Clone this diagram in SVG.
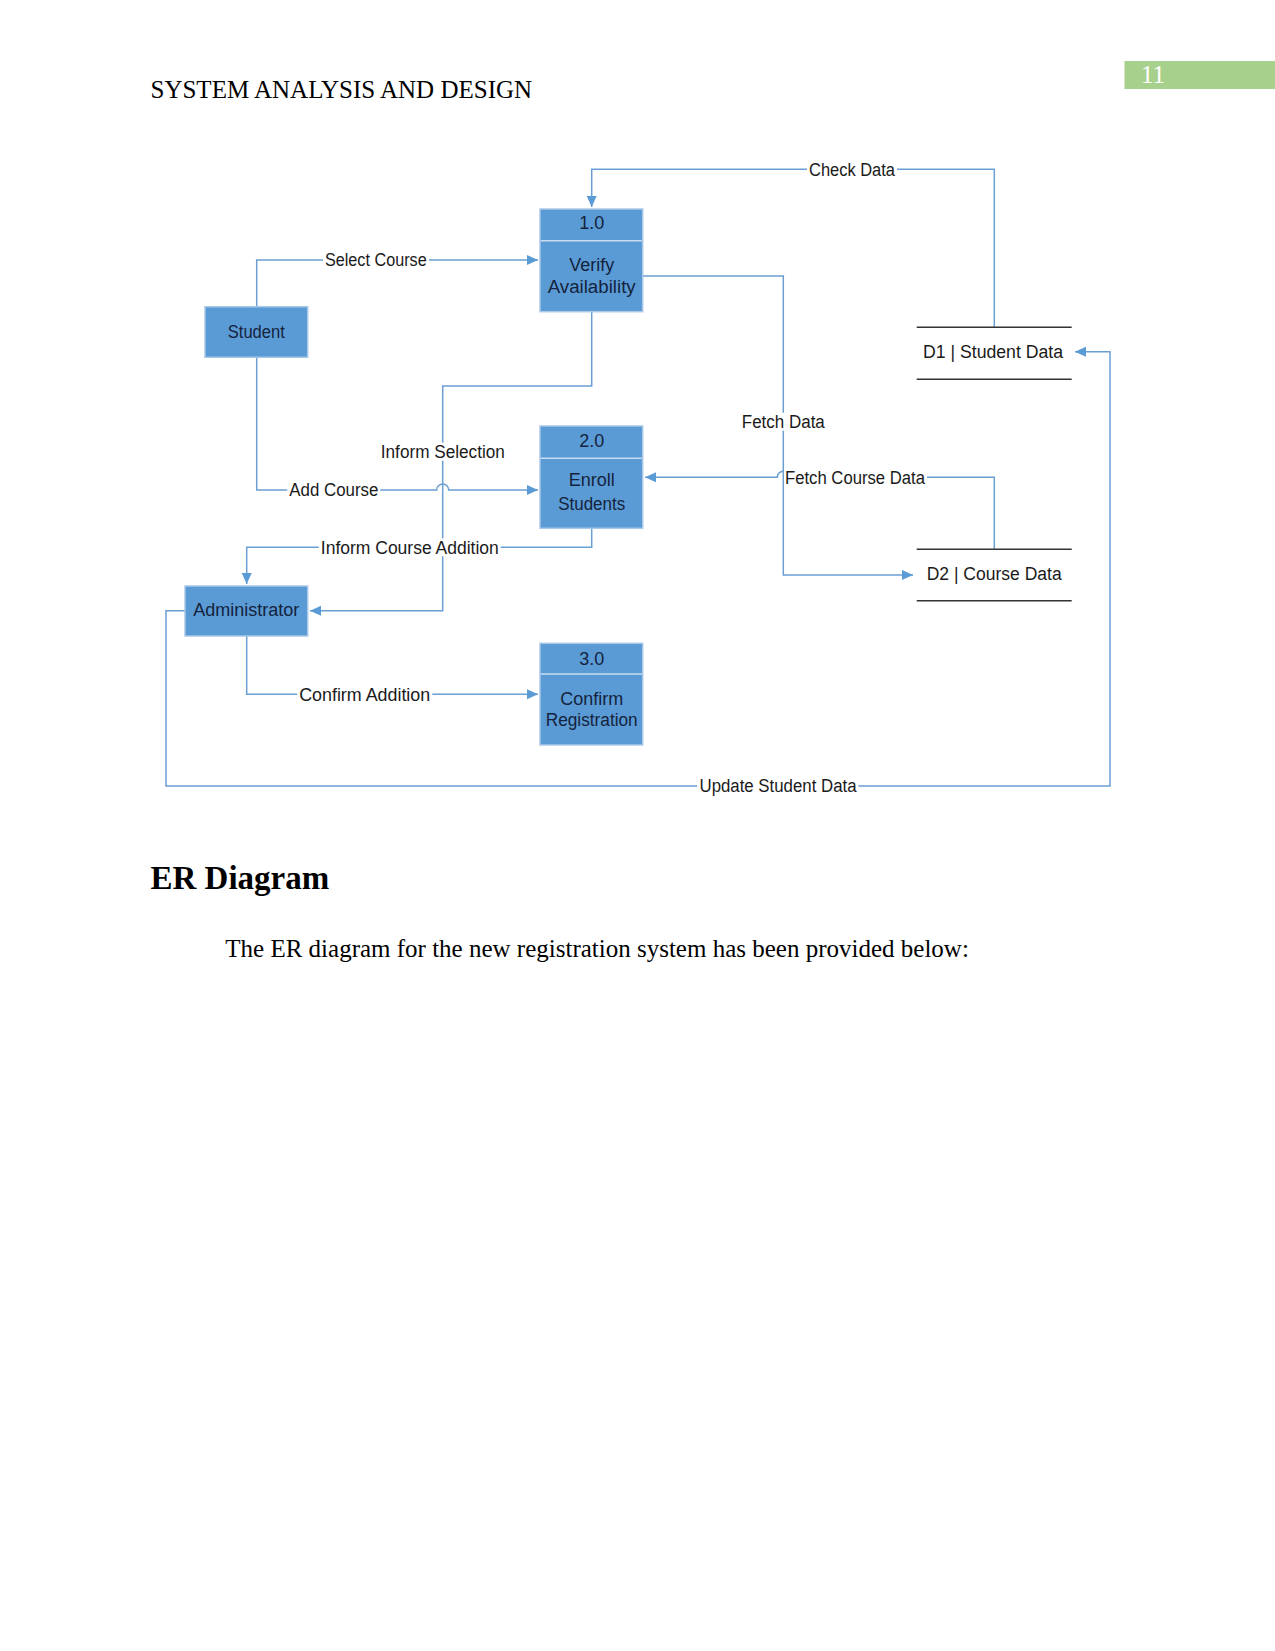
<svg xmlns="http://www.w3.org/2000/svg" width="1275" height="1651" viewBox="0 0 1275 1651">
<style>
.page{font-family:"Liberation Serif","Times New Roman",serif;fill:#000}
.box{fill:#5b9bd5;stroke:#a9c8e8;stroke-width:1.5}
.div{stroke:#c9dcf0;stroke-width:1.5}
.bt{font-family:"Liberation Sans",Arial,sans-serif;font-size:18px;fill:#14233d;text-anchor:middle}
.lb{font-family:"Liberation Sans",Arial,sans-serif;font-size:18px;fill:#1a1a1a;text-anchor:middle}
.bg{fill:#fff}
.c{fill:none;stroke:#6b9fd3;stroke-width:1.5}
.ds{stroke:#333;stroke-width:1.5}
</style>
<defs>
<marker id="ah" markerUnits="userSpaceOnUse" markerWidth="12" markerHeight="11" refX="11" refY="5" orient="auto">
<path d="M0,0 L11,5 L0,10 z" fill="#5b9bd5"/>
</marker>
</defs>
<rect width="1275" height="1651" fill="#fff"/>
<g id="header">
<text class="page" x="150.5" y="98" font-size="25">SYSTEM ANALYSIS AND DESIGN</text>
<rect x="1124.5" y="61" width="150.5" height="28" fill="#a8d08d"/>
<text x="1141" y="83" font-family="Liberation Serif, serif" font-size="25" fill="#fff">11</text>
</g>
<g id="connectors">
<path class="c" d="M256.7,306.7 V260 H538" marker-end="url(#ah)"/>
<path class="c" d="M994.3,327.3 V169.3 H591.7 V207" marker-end="url(#ah)"/>
<path class="c" d="M642.7,276 H783.3 V575 H913" marker-end="url(#ah)"/>
<path class="c" d="M591.7,311.7 V386 H442.7 V610.7 H310" marker-end="url(#ah)"/>
<path class="c" d="M256.7,357.3 V490 H436.7 A6,6 0 0 1 448.7,490 H538" marker-end="url(#ah)"/>
<path class="c" d="M591.7,528.3 V547.3 H246.7 V584" marker-end="url(#ah)"/>
<path class="c" d="M994.3,549.3 V477.3 H789.3 A6,6 0 0 0 777.3,477.3 H645" marker-end="url(#ah)"/>
<path class="c" d="M246.7,636 V694.3 H538" marker-end="url(#ah)"/>
<path class="c" d="M185,610.7 H166 V786 H1110 V351.7 H1075" marker-end="url(#ah)"/>
<g id="labels">
<rect class="bg" x="323" y="251" width="106" height="18"/>
<text class="lb" x="375.8" y="266.3" textLength="101.7" lengthAdjust="spacingAndGlyphs">Select Course</text>
<rect class="bg" x="807" y="160" width="90" height="18"/>
<text class="lb" x="852" y="175.6" textLength="86" lengthAdjust="spacingAndGlyphs">Check Data</text>
<rect class="bg" x="378.7" y="442.7" width="128" height="18"/>
<text class="lb" x="442.8" y="458" textLength="124" lengthAdjust="spacingAndGlyphs">Inform Selection</text>
<rect class="bg" x="287.3" y="481" width="93" height="18"/>
<text class="lb" x="333.8" y="496.3" textLength="89" lengthAdjust="spacingAndGlyphs">Add Course</text>
<rect class="bg" x="318.7" y="538.3" width="182" height="18"/>
<text class="lb" x="409.8" y="553.6" textLength="178" lengthAdjust="spacingAndGlyphs">Inform Course Addition</text>
<rect class="bg" x="739.7" y="412.7" width="87" height="18"/>
<text class="lb" x="783.3" y="428" textLength="83" lengthAdjust="spacingAndGlyphs">Fetch Data</text>
<rect class="bg" x="784" y="468.3" width="143" height="18"/>
<text class="lb" x="855" y="483.6" textLength="140" lengthAdjust="spacingAndGlyphs">Fetch Course Data</text>
<rect class="bg" x="297.3" y="685.3" width="135" height="18"/>
<text class="lb" x="364.7" y="700.6" textLength="131" lengthAdjust="spacingAndGlyphs">Confirm Addition</text>
<rect class="bg" x="697.3" y="777" width="161" height="18"/>
<text class="lb" x="778" y="792.3" textLength="157" lengthAdjust="spacingAndGlyphs">Update Student Data</text>
</g>
</g>
<g id="student">
<rect class="box" x="205" y="306.7" width="102.7" height="50.6"/>
<text class="bt" x="256.3" y="338" textLength="57" lengthAdjust="spacingAndGlyphs">Student</text>
</g>
<g id="administrator">
<rect class="box" x="185" y="586" width="122.7" height="50"/>
<text class="bt" x="246.3" y="616.3" textLength="106" lengthAdjust="spacingAndGlyphs">Administrator</text>
</g>
<g id="p1">
<rect class="box" x="540" y="209" width="102.7" height="102.7"/>
<line class="div" x1="540.8" y1="240.7" x2="641.9" y2="240.7"/>
<text class="bt" x="591.7" y="229.3">1.0</text>
<text class="bt" x="591.7" y="271.3">Verify</text>
<text class="bt" x="591.7" y="293" textLength="88" lengthAdjust="spacingAndGlyphs">Availability</text>
</g>
<g id="p2">
<rect class="box" x="540" y="426" width="102.7" height="102.3"/>
<line class="div" x1="540.8" y1="458.3" x2="641.9" y2="458.3"/>
<text class="bt" x="591.7" y="447">2.0</text>
<text class="bt" x="591.7" y="486.3">Enroll</text>
<text class="bt" x="591.7" y="509.6" textLength="67" lengthAdjust="spacingAndGlyphs">Students</text>
</g>
<g id="p3">
<rect class="box" x="540" y="643.3" width="102.7" height="101.7"/>
<line class="div" x1="540.8" y1="674" x2="641.9" y2="674"/>
<text class="bt" x="591.7" y="664.6">3.0</text>
<text class="bt" x="591.7" y="704.6">Confirm</text>
<text class="bt" x="591.7" y="725.6" textLength="92" lengthAdjust="spacingAndGlyphs">Registration</text>
</g>
<g id="d1">
<line class="ds" x1="916.7" y1="327.3" x2="1071.7" y2="327.3"/>
<line class="ds" x1="916.7" y1="379.3" x2="1071.7" y2="379.3"/>
<text class="lb" x="993" y="358" textLength="140" lengthAdjust="spacingAndGlyphs">D1 | Student Data</text>
</g>
<g id="d2">
<line class="ds" x1="916.7" y1="549.3" x2="1071.7" y2="549.3"/>
<line class="ds" x1="916.7" y1="600.7" x2="1071.7" y2="600.7"/>
<text class="lb" x="994.2" y="579.6" textLength="135" lengthAdjust="spacingAndGlyphs">D2 | Course Data</text>
</g>
<g id="body">
<text class="page" x="150.5" y="888.5" font-size="33" font-weight="bold">ER Diagram</text>
<text class="page" x="225.3" y="957" font-size="25">The ER diagram for the new registration system has been provided below:</text>
</g>
</svg>
